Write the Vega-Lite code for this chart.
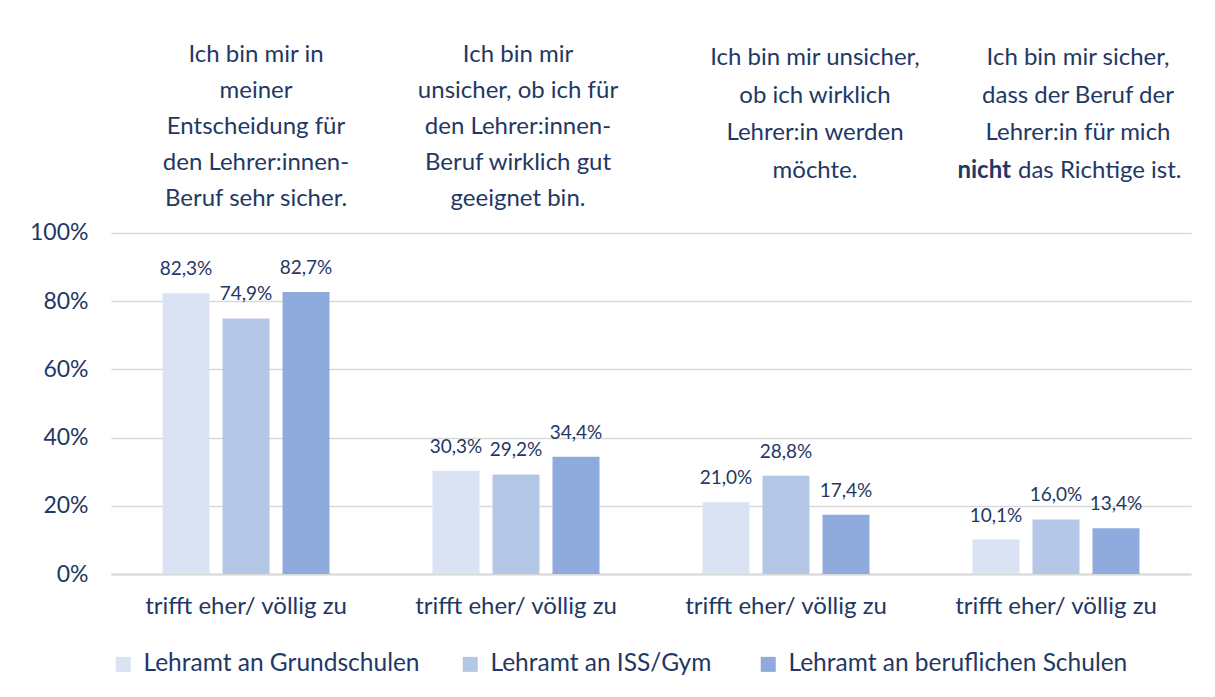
{
  "$schema": "https://vega.github.io/schema/vega-lite/v6.json",
  "width": 1080,
  "height": 539,
  "autosize": {"type": "none"},
  "padding": {"left": 111, "top": 35, "right": 24, "bottom": 123},
  "background": "white",
  "config": {
    "font": "Lato",
    "view": {"stroke": null},
    "locale": {"number": {"decimal": ",", "thousands": ".", "grouping": [3], "currency": ["", " €"]}}
  },
  "datasets": {
    "bars": [
      {"g": "G1", "s": "Lehramt an Grundschulen", "v": 0.823},
      {"g": "G1", "s": "Lehramt an  ISS/Gym", "v": 0.749},
      {"g": "G1", "s": "Lehramt an beruflichen Schulen", "v": 0.827},
      {"g": "G2", "s": "Lehramt an Grundschulen", "v": 0.303},
      {"g": "G2", "s": "Lehramt an  ISS/Gym", "v": 0.292},
      {"g": "G2", "s": "Lehramt an beruflichen Schulen", "v": 0.344},
      {"g": "G3", "s": "Lehramt an Grundschulen", "v": 0.210},
      {"g": "G3", "s": "Lehramt an  ISS/Gym", "v": 0.288},
      {"g": "G3", "s": "Lehramt an beruflichen Schulen", "v": 0.174},
      {"g": "G4", "s": "Lehramt an Grundschulen", "v": 0.101},
      {"g": "G4", "s": "Lehramt an  ISS/Gym", "v": 0.160},
      {"g": "G4", "s": "Lehramt an beruflichen Schulen", "v": 0.134}
    ],
    "titles": [
      {"g": "G1", "t": ["Ich bin mir in", "meiner", "Entscheidung für", "den Lehrer:innen-", "Beruf sehr sicher."]},
      {"g": "G2", "t": ["Ich bin mir", "unsicher, ob ich für", "den Lehrer:innen-", "Beruf wirklich gut", "geeignet bin."]},
      {"g": "G3", "t": ["Ich bin mir unsicher,", "ob ich wirklich", "Lehrer:in werden", "möchte."]},
      {"g": "G4", "t": ["Ich bin mir sicher,", "dass der Beruf der", "Lehrer:in für mich"]}
    ],
    "bold": [
      {"g": "G4", "t": "nicht", "r": "das Richtige ist."}
    ]
  },
  "encoding": {
    "x": {
      "field": "g",
      "type": "nominal",
      "sort": ["G1", "G2", "G3", "G4"],
      "scale": {"domain": ["G1", "G2", "G3", "G4"], "paddingInner": 0.3333, "paddingOuter": 0.1667},
      "axis": {
        "title": null,
        "labelExpr": "'trifft eher/ völlig zu'",
        "labelAngle": 0,
        "labelFontSize": 24,
        "labelLimit": 400,
        "labelColor": "#1F3864",
        "labelPadding": 20,
        "ticks": false,
        "domainColor": "#D9D9D9",
        "domainWidth": 2
      }
    }
  },
  "layer": [
    {
      "data": {"name": "bars"},
      "mark": {"type": "bar"},
      "encoding": {
        "xOffset": {
          "field": "s",
          "type": "nominal",
          "sort": ["Lehramt an Grundschulen", "Lehramt an  ISS/Gym", "Lehramt an beruflichen Schulen"],
          "scale": {"paddingInner": 0.217, "paddingOuter": 0.1085}
        },
        "y": {
          "field": "v",
          "type": "quantitative",
          "scale": {"domain": [0, 1.58], "nice": false},
          "axis": {
            "title": null,
            "values": [0, 0.2, 0.4, 0.6, 0.8, 1],
            "format": ".0%",
            "labelFontSize": 23,
            "labelColor": "#1F3864",
            "labelPadding": 23,
            "ticks": false,
            "domain": false,
            "gridColor": "#D9D9D9",
            "gridWidth": 1.5
          }
        },
        "color": {
          "field": "s",
          "type": "nominal",
          "sort": ["Lehramt an Grundschulen", "Lehramt an  ISS/Gym", "Lehramt an beruflichen Schulen"],
          "scale": {
            "domain": ["Lehramt an Grundschulen", "Lehramt an  ISS/Gym", "Lehramt an beruflichen Schulen"],
            "range": ["#DAE3F3", "#B4C7E7", "#8FAADC"]
          },
          "legend": {
            "title": null,
            "orient": "bottom",
            "direction": "horizontal",
            "symbolType": "square",
            "symbolSize": 225,
            "symbolStrokeWidth": 0,
            "labelFontSize": 24.5,
            "labelColor": "#1F3864",
            "labelLimit": 500,
            "labelOffset": 8,
            "columnPadding": 38,
            "offset": 34,
            "padding": 0
          }
        }
      }
    },
    {
      "data": {"name": "bars"},
      "mark": {"type": "text", "baseline": "alphabetic", "dy": -18, "fontSize": 19, "color": "#1F3864"},
      "encoding": {
        "xOffset": {"field": "s", "type": "nominal", "sort": ["Lehramt an Grundschulen", "Lehramt an  ISS/Gym", "Lehramt an beruflichen Schulen"]},
        "y": {"field": "v", "type": "quantitative"},
        "text": {"field": "v", "type": "quantitative", "format": ".1%"}
      }
    },
    {
      "data": {"name": "titles"},
      "transform": [{"filter": "datum.g === 'G1'"}],
      "mark": {"type": "text", "baseline": "alphabetic", "align": "center", "fontSize": 24, "lineHeight": 36, "color": "#1F3864", "dx": 10},
      "encoding": {"y": {"datum": 1.5015}, "text": {"field": "t"}}
    },
    {
      "data": {"name": "titles"},
      "transform": [{"filter": "datum.g === 'G2'"}],
      "mark": {"type": "text", "baseline": "alphabetic", "align": "center", "fontSize": 24, "lineHeight": 36, "color": "#1F3864", "dx": 2},
      "encoding": {"y": {"datum": 1.5015}, "text": {"field": "t"}}
    },
    {
      "data": {"name": "titles"},
      "transform": [{"filter": "datum.g === 'G3'"}],
      "mark": {"type": "text", "baseline": "alphabetic", "align": "center", "fontSize": 24, "lineHeight": 37.7, "color": "#1F3864", "dx": 29},
      "encoding": {"y": {"datum": 1.492}, "text": {"field": "t"}}
    },
    {
      "data": {"name": "titles"},
      "transform": [{"filter": "datum.g === 'G4'"}],
      "mark": {"type": "text", "baseline": "alphabetic", "align": "center", "fontSize": 24, "lineHeight": 37.7, "color": "#1F3864", "dx": 22},
      "encoding": {"y": {"datum": 1.492}, "text": {"field": "t"}}
    },
    {
      "data": {"name": "bold"},
      "mark": {"type": "text", "baseline": "alphabetic", "align": "right", "fontSize": 24, "fontWeight": "bold", "color": "#1F3864", "dx": -45, "dy": 113},
      "encoding": {"y": {"datum": 1.492}, "text": {"field": "t"}}
    },
    {
      "data": {"name": "bold"},
      "mark": {"type": "text", "baseline": "alphabetic", "align": "left", "fontSize": 24, "color": "#1F3864", "dx": -38, "dy": 113},
      "encoding": {"y": {"datum": 1.492}, "text": {"field": "r"}}
    }
  ]
}
